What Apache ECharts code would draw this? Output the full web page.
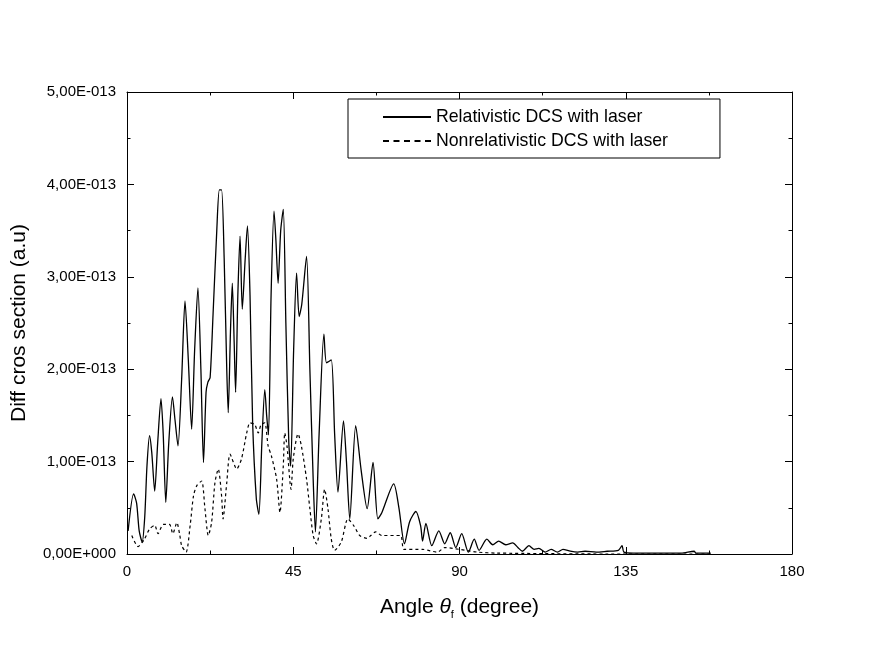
<!DOCTYPE html>
<html>
<head>
<meta charset="utf-8">
<script src="https://cdn.jsdelivr.net/npm/echarts@6/dist/echarts.min.js"></script>
<style>
  html, body { margin: 0; padding: 0; background: #fff; }
  #chart { width: 872px; height: 654px; }
</style>
</head>
<body>
<div id="chart"></div>
<script>
// values in units of 1E-013 a.u.
var relAngle = [0.3, 1.8, 2.6, 3.3, 4.1, 4.8, 5.4, 6.1, 6.7, 7.5, 8.3, 9.2, 9.8, 10.5, 11.3, 12.3, 13.0, 13.8,
  14.8, 15.7, 16.6, 17.5, 18.3, 19.2, 20.0, 20.7, 21.4, 21.9, 22.5, 23.3, 24.3, 25.0, 25.6, 26.3, 27.0, 27.4,
  28.0, 28.5, 29.0, 29.4, 30.0, 30.6, 31.2, 32.0, 32.6, 33.3, 34.0, 35.0, 35.7, 36.5, 37.3, 37.8, 38.3, 39.0,
  39.8, 40.3, 40.9, 41.6, 42.3, 43.0, 43.8, 44.3, 45.1, 45.9, 46.6, 47.3, 48.6, 49.5, 50.4, 51.0, 52.0, 53.3,
  54.0, 55.3, 56.2, 57.1, 58.6, 59.4, 60.3, 61.9, 63.4, 65.0, 66.6, 67.9, 69.0, 72.2, 73.6, 75.1, 76.5, 78.2,
  79.5, 80.0, 80.9, 82.5, 84.4, 86.0, 87.5, 89.0, 90.6, 92.4, 94.0, 95.3, 97.4, 99.0, 100.6, 102.5, 104.4,
  105.8, 107.0, 108.8, 110.2, 111.5, 113.2, 114.8, 116.5, 118.0, 120.0, 122.0, 124.0, 127.0, 130.0, 133.0,
  134.0, 134.5, 137.0, 145.0, 150.0, 153.5, 154.0, 158.0];
var relDcs = [0.25, 0.65, 0.55, 0.25, 0.13, 0.4, 0.95, 1.28, 1.1, 0.68, 1.2, 1.68, 1.3, 0.56, 1.2, 1.70, 1.45, 1.17,
  1.9, 2.74, 2.1, 1.35, 2.2, 2.88, 2.0, 0.99, 1.75, 1.86, 1.91, 2.6, 3.5, 3.94, 3.94, 3.2, 2.0, 1.53,
  2.4, 2.93, 2.3, 1.75, 2.8, 3.44, 2.65, 3.2, 3.55, 2.8, 1.43, 0.6, 0.43, 1.2, 1.78, 1.5, 1.29, 2.8,
  3.71, 3.4, 2.93, 3.5, 3.73, 2.5, 1.2, 0.95, 2.2, 3.04, 2.57, 2.7, 3.22, 2.0, 0.8, 0.24, 1.3, 2.38,
  2.07, 2.1, 1.3, 0.67, 1.44, 1.0, 0.38, 1.39, 0.9, 0.49, 0.99, 0.38, 0.45, 0.76, 0.5, 0.11, 0.35, 0.46,
  0.3, 0.14, 0.33, 0.09, 0.25, 0.11, 0.23, 0.07, 0.22, 0.02, 0.16, 0.04, 0.16, 0.1, 0.14, 0.1, 0.12,
  0.07, 0.03, 0.09, 0.05, 0.06, 0.02, 0.05, 0.02, 0.05, 0.03, 0.02, 0.03, 0.02, 0.03, 0.04,
  0.09, 0.02, 0.01, 0.01, 0.01, 0.03, 0.01, 0.01];

var nonrelAngle = [1.3, 3.0, 4.7, 6.1, 7.5, 8.4, 9.8, 11.5, 12.4, 13.5, 14.3, 14.8, 16.0, 17.1, 18.0, 18.9, 20.2,
  21.1, 22.0, 22.9, 23.8, 24.7, 25.6, 26.0, 27.0, 27.9, 29.7, 31.0, 32.4, 33.3, 34.6, 35.5, 36.3, 37.3, 38.2,
  39.1, 40.5, 41.4, 42.3, 42.7, 43.3, 44.4, 45.0, 46.3, 47.2, 48.6, 49.5, 50.4, 51.3, 52.6, 53.5, 54.4, 55.3,
  56.2, 58.0, 59.8, 61.5, 63.0, 65.0, 66.0, 67.3, 69.0, 74.0, 75.0, 80.0, 84.0, 86.0, 90.0, 95.0, 100.0,
  130.0, 158.0];
var nonrelDcs = [0.2, 0.08, 0.16, 0.27, 0.31, 0.22, 0.32, 0.32, 0.22, 0.34, 0.2, 0.09, 0.02, 0.31, 0.63, 0.74, 0.79,
  0.49, 0.2, 0.34, 0.77, 0.92, 0.63, 0.38, 0.77, 1.08, 0.92, 1.03, 1.31, 1.42, 1.4, 1.31, 1.40, 1.42, 1.17,
  1.06, 0.81, 0.45, 0.95, 1.31, 1.17, 0.7, 1.03, 1.3, 1.17, 0.81, 0.49, 0.2, 0.11, 0.38, 0.7, 0.49, 0.16,
  0.04, 0.13, 0.38, 0.3, 0.2, 0.17, 0.2, 0.24, 0.2, 0.2, 0.05, 0.05, 0.02, 0.07, 0.05, 0.02, 0.01,
  0.0, 0.0];

var xTicks = [0, 45, 90, 135, 180];
var yTicks = [0, 1, 2, 3, 4, 5];

function pairs(xs, ys) {
  var out = [];
  for (var i = 0; i < xs.length; i++) out.push([xs[i], ys[i]]);
  return out;
}

function yLabel(v) {
  if (v === 0) return '0,00E+000';
  return v.toFixed(2).replace('.', ',') + 'E-013';
}

var FONT = '"Liberation Sans", Arial, sans-serif';
var chart = echarts.init(document.getElementById('chart'), null, { renderer: 'canvas' });

// mirrored axes closing the frame (top and right), ticks only
function frameAxis(pos, max, interval) {
  return {
    type: 'value', min: 0, max: max, interval: interval, position: pos,
    axisLine: { show: true, onZero: false, lineStyle: { color: '#000', width: 1 } },
    axisTick: { show: true, inside: true, length: 7, lineStyle: { color: '#000' } },
    minorTick: { show: true, splitNumber: 2, length: 3.5, lineStyle: { color: '#000' } },
    splitLine: { show: false },
    axisLabel: { show: false }
  };
}

var solidIcon = 'path://M0,0H48V2H0Z';
var dashIcon = 'path://M0,0H6V2H0Z M10.5,0H16.5V2H10.5Z M21,0H27V2H21Z M31.5,0H37.5V2H31.5Z M42,0H48V2H42Z';

var option = {
  backgroundColor: '#fff',
  animation: false,
  grid: { left: 127, right: 80, top: 92, bottom: 100 },
  legend: {
    left: 348, top: 99,
    orient: 'vertical',
    backgroundColor: '#fff',
    borderColor: '#000', borderWidth: 1, borderRadius: 0,
    padding: [9, 52, 8, 35],
    itemWidth: 48, itemHeight: 2, itemGap: 6, itemTextGap: 6,
    itemStyle: { color: '#000', borderWidth: 0 },
    textStyle: { fontFamily: FONT, fontSize: 17.7, color: '#000', lineHeight: 18 },
    data: [
      { name: 'Relativistic DCS with laser', icon: solidIcon },
      { name: 'Nonrelativistic DCS with laser', icon: dashIcon }
    ]
  },
  xAxis: [
    {
      type: 'value', min: 0, max: 180, interval: 45,
      position: 'bottom',
      axisLine: { show: true, onZero: false, lineStyle: { color: '#000', width: 1 } },
      axisTick: { show: true, inside: true, length: 7, lineStyle: { color: '#000' } },
      minorTick: { show: true, splitNumber: 2, length: 3.5, lineStyle: { color: '#000' } },
      splitLine: { show: false },
      axisLabel: { margin: 10, fontFamily: FONT, fontSize: 15, color: '#000',
        formatter: function (v) { return xTicks.indexOf(v) >= 0 ? String(v) : ''; } },
      name: 'Angle {t|θ}{s|f} (degree)',
      nameLocation: 'middle', nameGap: 40,
      nameTextStyle: {
        fontFamily: FONT, fontSize: 21, color: '#000', lineHeight: 26,
        rich: {
          t: { fontFamily: FONT, fontSize: 21, fontStyle: 'italic', color: '#000', lineHeight: 26 },
          s: { fontFamily: FONT, fontSize: 11, color: '#000', verticalAlign: 'bottom', lineHeight: 26, padding: [12, 0, 0, 0] }
        }
      }
    },
    frameAxis('top', 180, 45)
  ],
  yAxis: [
    {
      type: 'value', min: 0, max: 5, interval: 1,
      position: 'left',
      axisLine: { show: true, onZero: false, lineStyle: { color: '#000', width: 1 } },
      axisTick: { show: true, inside: true, length: 7, lineStyle: { color: '#000' } },
      minorTick: { show: true, splitNumber: 2, length: 3.5, lineStyle: { color: '#000' } },
      splitLine: { show: false },
      axisLabel: { margin: 11, fontFamily: FONT, fontSize: 15, color: '#000',
        formatter: function (v) { return yTicks.indexOf(v) >= 0 ? yLabel(v) : ''; } },
      name: 'Diff cros section (a.u)',
      nameLocation: 'middle', nameGap: 97, nameRotate: 90,
      nameTextStyle: { fontFamily: FONT, fontSize: 21, color: '#000' }
    },
    frameAxis('right', 5, 1)
  ],
  series: [
    {
      name: 'Relativistic DCS with laser',
      type: 'line', xAxisIndex: 0, yAxisIndex: 0,
      showSymbol: false, symbol: 'none', smooth: 0.25,
      lineStyle: { color: '#000', width: 1.3, type: 'solid' },
      itemStyle: { color: '#000' },
      data: pairs(relAngle, relDcs),
      z: 3
    },
    {
      name: 'Nonrelativistic DCS with laser',
      type: 'line', xAxisIndex: 0, yAxisIndex: 0,
      showSymbol: false, symbol: 'none', smooth: 0.25,
      lineStyle: { color: '#000', width: 1.2, type: [3, 3] },
      itemStyle: { color: '#000' },
      data: pairs(nonrelAngle, nonrelDcs),
      z: 2
    }
  ]
};

chart.setOption(option);
</script>
</body>
</html>
